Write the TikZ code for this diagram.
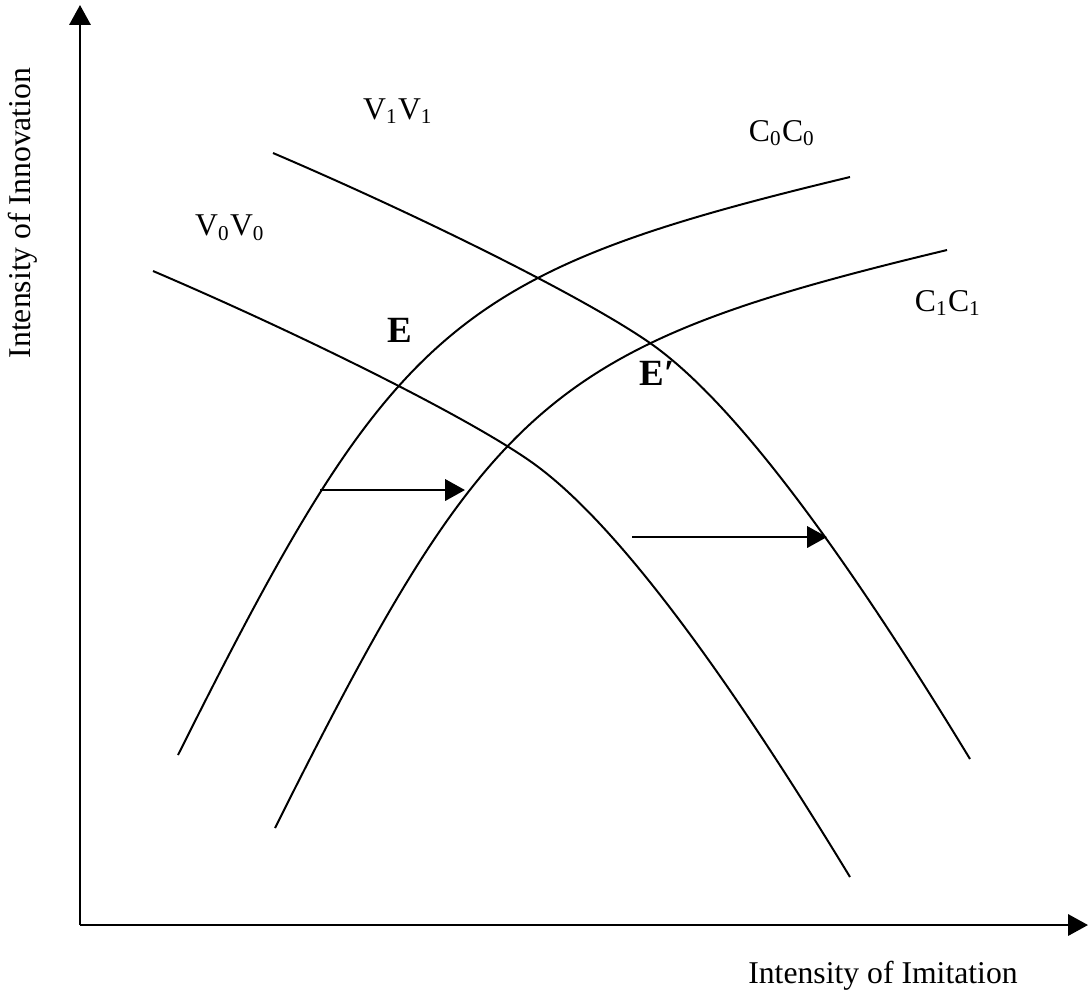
\documentclass[tikz,border=0pt]{standalone}
\usepackage{fontspec}
\setmainfont{Liberation Serif}
\usetikzlibrary{arrows.meta}

\begin{document}
\begin{tikzpicture}[
  >={Triangle[length=7.5pt,width=8pt]},
  x=0.0133cm,
  y=-0.0133cm,
  curve/.style={line width=0.75pt},
  axis/.style={->,line width=0.9pt},
  shiftarrow/.style={->,line width=1.1pt},
  lbl/.style={font=\fontsize{12}{14}\selectfont,inner sep=0pt},
  eqm/.style={font=\fontsize{14}{16}\selectfont\bfseries,inner sep=0pt}
]
  \useasboundingbox (0,0) rectangle (1089,1000);

  \coordinate (O) at (80,925);
  \coordinate (ytop) at (80,5);
  \coordinate (xend) at (1088,925);
  \draw[axis] (O) -- (ytop);
  \draw[axis] (O) -- (xend);
  \node[lbl,rotate=90] (ylab) at (23,213) {Intensity of Innovation};
  \node[lbl] (xlab) at (883,976) {Intensity of Imitation};

  \draw[curve] (153,271) .. controls (298,333) and (464,415) .. (530,461)
    .. controls (609,516) and (715,655) .. (850,877);
  \draw[curve] (273,153) .. controls (418,215) and (584,297) .. (650,343)
    .. controls (729,398) and (835,537) .. (970,759);
  \draw[curve] (178,755) .. controls (393,325) and (450,273) .. (850,177);
  \draw[curve] (275,828) .. controls (490,398) and (547,346) .. (947,250);

  \coordinate (c0a) at (320,490);
  \coordinate (c1a) at (465,490);
  \coordinate (v0b) at (632,537);
  \coordinate (v1b) at (827,537);
  \draw[shiftarrow] (c0a) -- (c1a);
  \draw[shiftarrow] (v0b) -- (v1b);

  \node[lbl] (v1lab) at (398,111) {V\textsubscript{1}V\textsubscript{1}};
  \node[lbl] (v0lab) at (230,228) {V\textsubscript{0}V\textsubscript{0}};
  \node[lbl] (c0lab) at (782,133) {C\textsubscript{0}C\textsubscript{0}};
  \node[lbl] (c1lab) at (948,303) {C\textsubscript{1}C\textsubscript{1}};
  \node[eqm] (e0) at (400,330) {E};
  \node[eqm] (e1) at (657,373) {E\char"2032};
\end{tikzpicture}
\end{document}
